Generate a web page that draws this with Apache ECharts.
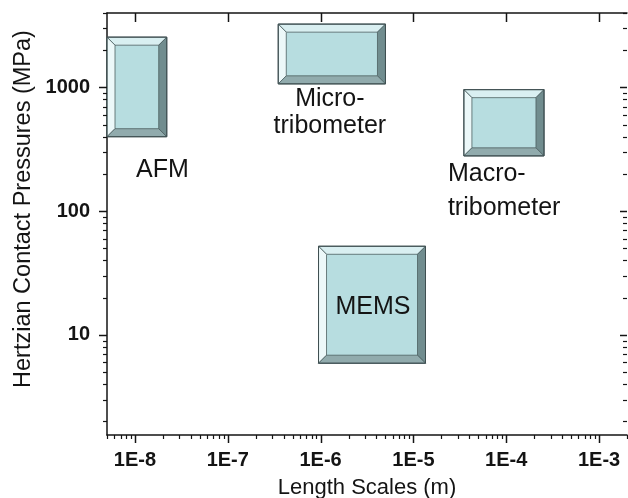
<!DOCTYPE html>
<html>
<head>
<meta charset="utf-8">
<script src="https://cdn.jsdelivr.net/npm/echarts@6/dist/echarts.min.js"></script>
<style>
  html, body { margin: 0; padding: 0; background: #ffffff; }
  #chart { width: 628px; height: 498px; }
</style>
</head>
<body>
<div id="chart"></div>
<script>
// Test methods and the length-scale / contact-pressure windows each one covers
const methods      = ['AFM', 'Micro-\ntribometer', 'Macro-\ntribometer', 'MEMS'];
const lengthMin    = [5e-9,   3.5e-7, 3.5e-5,  9.5e-7];   // m
const lengthMax    = [2.2e-8, 5e-6,   2.55e-4, 1.35e-5];  // m
const pressureMin  = [400,    1070,   280,     5.9];      // MPa
const pressureMax  = [2550,   3250,   960,     52];       // MPa

// Axis tick labels (decades) and axis ranges
const xTickLabels = ['1E-8', '1E-7', '1E-6', '1E-5', '1E-4', '1E-3'];
const yTickLabels = ['10', '100', '1000'];
const X_MIN = 5e-9, X_MAX = 2e-3;
const Y_MIN = 1.55, Y_MAX = 4000;

// Where each method's caption sits relative to its box (pixels)
const captionLayout = [
  { anchor: 'bottomLeft',   dx: 29,  dy: 33,   align: 'left',   gap: 0 },
  { anchor: 'bottomCenter', dx: -2,  dy: 15,   align: 'center', gap: 27 },
  { anchor: 'bottomLeft',   dx: -16, dy: 18.5, align: 'left',   gap: 33.5 },
  { anchor: 'center',       dx: 1,   dy: 2,    align: 'center', gap: 0 }
];

const FONT = '"Liberation Sans", Arial, sans-serif';
const INK = '#141414';
const BEVEL = 8;
const boxColors = {
  face: '#b7dde0',
  top: '#d9eff1',
  left: '#ecf8f9',
  right: '#718d8f',
  bottom: '#91abad',
  edge: '#4d5f61'
};

function decadeLabel(labels) {
  return function (v) {
    for (const s of labels) {
      const n = Number(s);
      if (Math.abs(v - n) <= n * 1e-6) return s;
    }
    return '';
  };
}

function decades(lo, hi) {
  const out = [];
  for (let e = Math.floor(Math.log10(lo)); e <= Math.ceil(Math.log10(hi)); e++) {
    const v = Math.pow(10, e);
    if (v >= lo * 0.999 && v <= hi * 1.001) out.push(v);
  }
  return out;
}
function minors(lo, hi) {
  const out = [];
  for (let e = Math.floor(Math.log10(lo)); e <= Math.ceil(Math.log10(hi)); e++) {
    for (let k = 2; k <= 9; k++) {
      const v = k * Math.pow(10, e);
      if (v >= lo * 0.999 && v <= hi * 1.001) out.push(v);
    }
  }
  return out;
}

function renderBox(params, api) {
  const x0 = api.value(0), x1 = api.value(1), y0 = api.value(2), y1 = api.value(3);
  const i = api.value(4);
  const tl = api.coord([x0, y1]);
  const br = api.coord([x1, y0]);
  const L = tl[0], T = tl[1], R = br[0], B = br[1], b = BEVEL;
  const poly = (pts, fill) => ({
    type: 'polygon', shape: { points: pts },
    style: { fill: fill, stroke: boxColors.edge, lineWidth: 0.8 }
  });
  const children = [
    poly([[L, T], [R, T], [R, B], [L, B]], boxColors.face),
    poly([[L, T], [R, T], [R - b, T + b], [L + b, T + b]], boxColors.top),
    poly([[L, T], [L + b, T + b], [L + b, B - b], [L, B]], boxColors.left),
    poly([[R, T], [R, B], [R - b, B - b], [R - b, T + b]], boxColors.right),
    poly([[L, B], [R, B], [R - b, B - b], [L + b, B - b]], boxColors.bottom),
    {
      type: 'rect', shape: { x: L, y: T, width: R - L, height: B - T },
      style: { fill: null, stroke: '#3f4f51', lineWidth: 1 }
    }
  ];
  const lay = captionLayout[i];
  let ax, ay;
  if (lay.anchor === 'bottomLeft') { ax = L; ay = B; }
  else if (lay.anchor === 'bottomCenter') { ax = (L + R) / 2; ay = B; }
  else { ax = (L + R) / 2; ay = (T + B) / 2; }
  methods[i].split('\n').forEach((line, k) => {
    children.push({
      type: 'text',
      style: {
        text: line,
        x: ax + lay.dx,
        y: ay + lay.dy + k * lay.gap,
        fill: INK,
        fontSize: 25,
        fontFamily: FONT,
        align: lay.align,
        verticalAlign: 'middle'
      }
    });
  });
  return { type: 'group', children: children };
}

function renderTicks(params, api) {
  const cs = params.coordSys;
  const left = cs.x, top = cs.y, right = cs.x + cs.width, bottom = cs.y + cs.height;
  const lines = [];
  const seg = (x1, y1, x2, y2, w) => lines.push({
    type: 'line',
    shape: { x1: x1, y1: y1, x2: x2, y2: y2 },
    style: { stroke: INK, lineWidth: w }
  });
  const px = v => Math.round(api.coord([v, Y_MIN])[0]) + 0.5;
  const py = v => Math.round(api.coord([X_MIN, v])[1]) + 0.5;

  decades(X_MIN, X_MAX).forEach(v => {
    const x = px(v);
    seg(x, bottom, x, bottom + 8, 1.5);   // bottom, outward
    seg(x, top, x, top + 9, 1.5);         // top, inward
  });
  minors(X_MIN, X_MAX).forEach(v => {
    const x = px(v);
    seg(x, bottom, x, bottom + 4, 1.2);
  });
  decades(Y_MIN, Y_MAX).forEach(v => {
    const y = py(v);
    seg(left - 8, y, left, y, 1.5);       // left, outward
    seg(right - 7, y, right, y, 1.5);     // right, inward
  });
  minors(Y_MIN, Y_MAX).forEach(v => {
    const y = py(v);
    seg(left - 4, y, left, y, 1.2);
    seg(right - 4, y, right, y, 1.2);
  });
  return { type: 'group', children: lines };
}

const chart = echarts.init(document.getElementById('chart'), null, { renderer: 'canvas' });

const axisLineStyle = { color: INK, width: 1.5 };

chart.setOption({
  animation: false,
  backgroundColor: '#ffffff',
  grid: { left: 107, right: 1, top: 13, bottom: 63, containLabel: false, outerBoundsMode: 'none' },
  xAxis: [
    {
      type: 'log', logBase: 10, position: 'bottom', min: X_MIN, max: X_MAX,
      name: 'Length Scales (m)', nameLocation: 'middle', nameGap: 42, nameMoveOverlap: false,
      nameTextStyle: { fontFamily: FONT, fontSize: 22, color: INK },
      axisLine: { show: true, lineStyle: axisLineStyle },
      axisTick: { show: false },
      splitLine: { show: false },
      axisLabel: {
        formatter: decadeLabel(xTickLabels), margin: 15, hideOverlap: false,
        fontFamily: FONT, fontSize: 20, fontWeight: 'bold', color: INK
      }
    },
    {
      type: 'log', logBase: 10, position: 'top', min: X_MIN, max: X_MAX,
      axisLine: { show: true, lineStyle: axisLineStyle },
      axisTick: { show: false },
      splitLine: { show: false },
      axisLabel: { show: false }
    }
  ],
  yAxis: [
    {
      type: 'log', logBase: 10, position: 'left', min: Y_MIN, max: Y_MAX,
      name: 'Hertzian Contact Pressures (MPa)', nameLocation: 'middle', nameGap: 71, nameMoveOverlap: false,
      nameTextStyle: { fontFamily: FONT, fontSize: 23.5, color: INK, padding: [0, 0, 0, 30] },
      axisLine: { show: true, lineStyle: axisLineStyle },
      axisTick: { show: false },
      splitLine: { show: false },
      axisLabel: {
        formatter: decadeLabel(yTickLabels), margin: 17, hideOverlap: false,
        fontFamily: FONT, fontSize: 20, fontWeight: 'bold', color: INK
      }
    },
    {
      type: 'log', logBase: 10, position: 'right', min: Y_MIN, max: Y_MAX,
      axisLine: { show: false },
      axisTick: { show: false },
      splitLine: { show: false },
      axisLabel: { show: false }
    }
  ],
  series: [
    {
      type: 'custom',
      name: 'methods',
      xAxisIndex: 0, yAxisIndex: 0,
      silent: true,
      renderItem: renderBox,
      encode: { x: [0, 1], y: [2, 3] },
      data: methods.map((m, i) => [lengthMin[i], lengthMax[i], pressureMin[i], pressureMax[i], i])
    },
    {
      type: 'custom',
      name: 'ticks',
      xAxisIndex: 0, yAxisIndex: 0,
      silent: true,
      z: 5,
      renderItem: renderTicks,
      data: [[X_MIN, Y_MIN]]
    }
  ]
});
</script>
</body>
</html>
